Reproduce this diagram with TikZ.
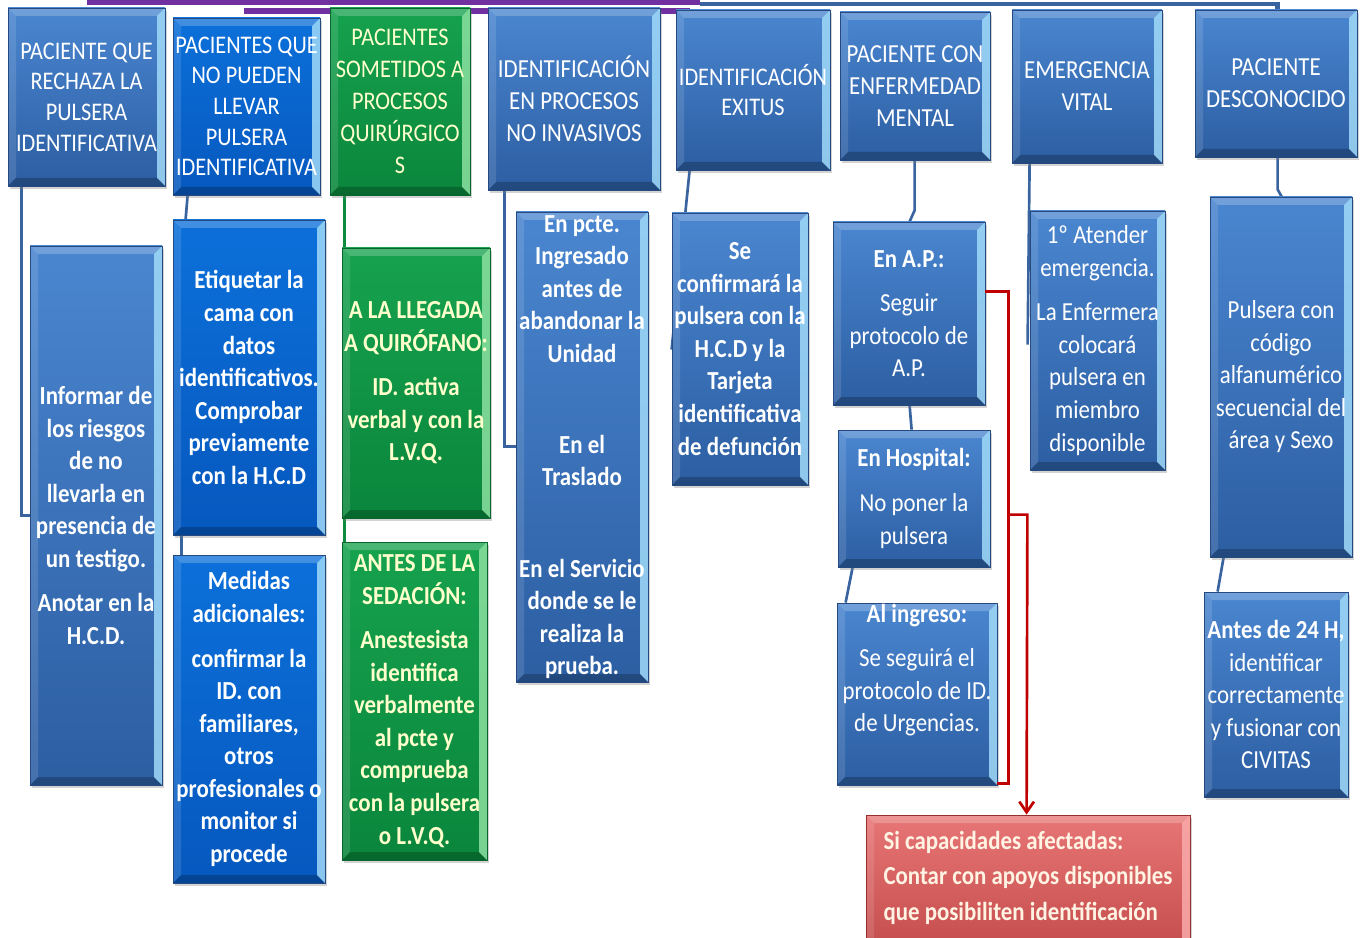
\documentclass[tikz,border=0pt]{standalone}
\usepackage{fontspec}
\setmainfont{Carlito}[FakeStretch=0.88]
\usetikzlibrary{fit,calc,shadows,backgrounds,arrows.meta}

\definecolor{aceroA}{RGB}{74,134,208}
\definecolor{aceroB}{RGB}{44,94,162}
\definecolor{aceroL}{RGB}{38,74,128}
\definecolor{vivoA}{RGB}{12,112,218}
\definecolor{vivoB}{RGB}{6,88,190}
\definecolor{verdeA}{RGB}{22,162,78}
\definecolor{verdeB}{RGB}{10,134,60}
\definecolor{verdeL}{RGB}{10,100,45}
\definecolor{verdeT}{RGB}{255,255,205}
\definecolor{rojoA}{RGB}{232,118,118}
\definecolor{rojoB}{RGB}{196,76,76}
\definecolor{rojoL}{RGB}{150,48,48}
\definecolor{rojoT}{RGB}{255,244,228}
\definecolor{brilloA}{RGB}{160,218,248}
\definecolor{brilloV}{RGB}{140,224,160}
\definecolor{brilloR}{RGB}{250,170,170}
\definecolor{lineaA}{RGB}{58,100,160}
\definecolor{lineaV}{RGB}{12,140,60}
\definecolor{morado}{RGB}{112,48,160}
\definecolor{flecha}{RGB}{192,0,0}

\tikzset{
  bevel/.style={path picture={
    \coordinate (bnw) at (path picture bounding box.north west);
    \coordinate (bne) at (path picture bounding box.north east);
    \coordinate (bsw) at (path picture bounding box.south west);
    \coordinate (bse) at (path picture bounding box.south east);
    \fill[white,opacity=.22] (bnw) -- (bne) -- ([shift={(-6pt,-6pt)}]bne) -- ([shift={(6pt,-6pt)}]bnw) -- cycle;
    \fill[white,opacity=.12] (bnw) -- (bsw) -- ([shift={(6pt,6pt)}]bsw) -- ([shift={(6pt,-6pt)}]bnw) -- cycle;
    \fill[#1,opacity=.85] (bne) -- (bse) -- ([shift={(-6pt,6pt)}]bse) -- ([shift={(-6pt,-6pt)}]bne) -- cycle;
    \fill[black,opacity=.22] (bsw) -- (bse) -- ([shift={(-6pt,6pt)}]bse) -- ([shift={(6pt,6pt)}]bsw) -- cycle;
  }},
  caja/.style={inner sep=0pt, line width=.6pt,
    drop shadow={opacity=.35,shadow xshift=1.5pt,shadow yshift=-2pt}},
  acero/.style={caja, draw=aceroL, top color=aceroA, bottom color=aceroB, bevel=brilloA},
  vivo/.style={caja, draw=aceroL, top color=vivoA, bottom color=vivoB, bevel=brilloA},
  verde/.style={caja, draw=verdeL, top color=verdeA, bottom color=verdeB, bevel=brilloV},
  rojo/.style={caja, draw=rojoL, top color=rojoA, bottom color=rojoB, bevel=brilloR},
  htxt/.style={text=white, align=center, font=\fontsize{19}{23}\selectfont},
  btxt/.style={text=white, align=center, font=\fontsize{19.5}{24.4}\selectfont},
  bbtxt/.style={btxt, font=\fontsize{19.5}{24.4}\selectfont\bfseries},
  rtxt/.style={text=rojoT, align=left, font=\fontsize{19.5}{26.6}\selectfont\bfseries},
  conn/.style={draw=lineaA, line width=2pt},
  connv/.style={draw=lineaV, line width=2pt},
  banda/.style={draw=morado, line width=4.5pt},
  raiz/.style={draw=lineaA, line width=3.5pt},
  rojol/.style={draw=flecha, line width=2pt}
}

\begin{document}
\begin{tikzpicture}[x=0.75pt,y=-0.75pt]
\clip (0,0) rectangle (1365,938);

\node[acero, fit={(8,8) (165,186)}, label={[htxt]center:{PACIENTE QUE\\RECHAZA LA\\PULSERA\\IDENTIFICATIVA}}] (h1) {};
\node[vivo, fit={(173,18) (320,195)}, label={[htxt]center:{PACIENTES QUE\\NO PUEDEN\\LLEVAR\\PULSERA\\IDENTIFICATIVA}}] (h2) {};
\node[verde, fit={(330,8) (470,195)}, label={[htxt,text=verdeT,font=\fontsize{19}{24}\selectfont]center:{PACIENTES\\SOMETIDOS A\\PROCESOS\\QUIRÚRGICO\\S}}] (h3) {};
\node[acero, fit={(488,8) (660,190)}, label={[htxt,font=\fontsize{19.5}{24}\selectfont]center:{IDENTIFICACIÓN\\EN PROCESOS\\NO INVASIVOS}}] (h4) {};
\node[acero, fit={(676,10) (830,170)}, label={[htxt]center:{IDENTIFICACIÓN\\EXITUS}}] (h5) {};
\node[acero, fit={(840,12) (990,160)}, label={[htxt,font=\fontsize{19.5}{24}\selectfont]center:{PACIENTE CON\\ENFERMEDAD\\MENTAL}}] (h6) {};
\node[acero, fit={(1012,10) (1162,163)}, label={[htxt,font=\fontsize{19.5}{24}\selectfont]center:{EMERGENCIA\\VITAL}}] (h7) {};
\node[acero, fit={(1195,10) (1357,157)}, label={[htxt,font=\fontsize{19.5}{24}\selectfont]center:{PACIENTE\\DESCONOCIDO}}] (h8) {};

\node[acero, fit={(30,246) (162,785)}, label={[bbtxt]center:{Informar de\\los riesgos\\de no\\llevarla en\\presencia de\\un testigo.\\[9pt]Anotar en la\\H.C.D.}}] (c1) {};
\node[vivo, fit={(173,220) (325,535)}, label={[bbtxt]center:{Etiquetar la\\cama con\\datos\\identificativos.\\Comprobar\\previamente\\con la H.C.D}}] (c2a) {};
\node[vivo, fit={(173,555) (325,883)}, label={[bbtxt]center:{Medidas\\adicionales:\\[9pt]confirmar la\\ID. con\\familiares,\\otros\\profesionales o\\monitor si\\procede}}] (c2b) {};
\node[verde, fit={(342,248) (490,518)}, label={[bbtxt,text=verdeT]center:{A LA LLEGADA\\A QUIRÓFANO:\\[9pt]ID. activa\\verbal y con la\\L.V.Q.}}] (g1) {};
\node[verde, fit={(342,542) (487,860)}, label={[bbtxt,text=verdeT]center:{ANTES DE LA\\SEDACIÓN:\\[9pt]Anestesista\\identifica\\verbalmente\\al pcte y\\comprueba\\con la pulsera\\o L.V.Q.}}] (g2) {};
\node[acero, fit={(516,212) (648,682)}, label={[bbtxt]center:{En pcte.\\Ingresado\\antes de\\abandonar la\\Unidad\\[44pt]En el\\Traslado\\[44pt]En el Servicio\\donde se le\\realiza la\\prueba.}}] (c4) {};
\node[acero, fit={(672,213) (808,485)}, label={[bbtxt]center:{Se\\confirmará la\\pulsera con la\\H.C.D y la\\Tarjeta\\identificativa\\de defunción}}] (c5) {};
\node[acero, fit={(833,222) (985,405)}, label={[btxt]center:{\textbf{En A.P.:}\\[9pt]Seguir\\protocolo de\\A.P.}}] (m1) {};
\node[acero, fit={(838,430) (990,567)}, label={[btxt]center:{\textbf{En Hospital:}\\[9pt]No poner la\\pulsera}}] (m2) {};
\node[acero, fit={(837,603) (997,785)}, label={[btxt,yshift=18pt]center:{\textbf{Al ingreso:}\\[9pt]Se seguirá el\\protocolo de ID.\\de Urgencias.}}] (m3) {};
\node[acero, fit={(1030,211) (1165,470)}, label={[btxt]center:{1º Atender\\emergencia.\\[9pt]La Enfermera\\colocará\\pulsera en\\miembro\\disponible}}] (e1) {};
\node[acero, fit={(1210,197) (1352,557)}, label={[btxt]center:{Pulsera con\\código\\alfanumérico\\secuencial del\\área y Sexo}}] (d1) {};
\node[acero, fit={(1204,592) (1348,797)}, label={[btxt]center:{\textbf{Antes de 24 H,}\\identificar\\correctamente\\y fusionar con\\CIVITAS}}] (d2) {};
\node[rojo, fit={(866,815) (1190,950)}, label={[rtxt,yshift=3.5pt]center:{Si capacidades afectadas:\\Contar con apoyos disponibles\\que posibiliten identificación}}] (r) {};

\begin{pgfonlayer}{background}
\coordinate (p1) at (87,2.5); \coordinate (p2) at (700,2.5);
\coordinate (p3) at (244,11); \coordinate (p4) at (690,11);
\coordinate (s1) at (700,4);
\draw[banda] (p1) -- (p2);
\draw[banda] (p3) -- (p4);
\draw[raiz] (s1) -| ($(h8.north west)+(83,0)$);
\draw[conn] ($(h1.south west)+(14,0)$) |- (c1.west);
\draw[conn] ($(h2.south west)+(15,0)$) -- ($(c2a.north west)+(13,0)$);
\draw[conn] ($(c2a.south west)+(9,0)$) -- ($(c2b.north west)+(9,0)$);
\draw[connv] ($(h3.south west)+(15,0)$) -- ($(g1.north west)+(3,0)$);
\draw[connv] ($(g1.south west)+(3,0)$) -- ($(g2.north west)+(3,0)$);
\draw[conn] ($(h4.south west)+(17,0)$) |- ($(c4.north west)+(0,235)$);
\draw[conn] ($(h5.south west)+(14,0)$) -- ($(c5.north west)+(0,137)$);
\draw[conn] ($(h6.south west)+(75,0)$) -- ++(0,50) -- ($(m1.north west)+(77,0)$);
\draw[conn] ($(m1.south west)+(77,0)$) -- ($(m2.north west)+(74,0)$);
\draw[conn] ($(m2.south west)+(15,0)$) -- ($(m3.north west)+(9,0)$);
\draw[conn] ($(h7.south west)+(18,0)$) -- ($(e1.north west)+(-2,134)$);
\draw[conn] ($(h8.south west)+(83,0)$) -- ++(0,32) -- ($(d1.north west)+(72,0)$);
\draw[conn] ($(d1.south west)+(14,0)$) -- ($(d2.north west)+(14,0)$);
\end{pgfonlayer}

\draw[rojol] ($(m1.north east)+(0,70)$) -- ++(23,0) |- ($(m3.south east)+(0,-2)$);
\coordinate (brk) at ($(m1.north east)+(23,293)$);
\draw[rojol,-{Straight Barb[length=8pt,width=11pt]}] (brk) -- ++(19,0) -- ($(r.north west)+(161,0)$);
\end{tikzpicture}
\end{document}
